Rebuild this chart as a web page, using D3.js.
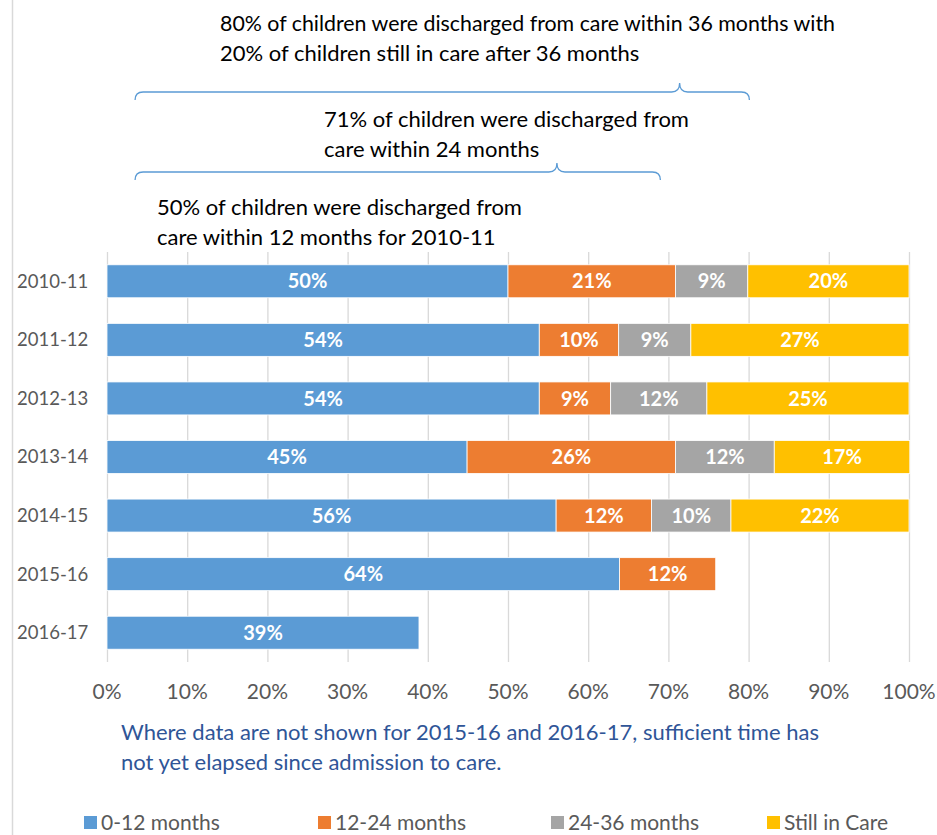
<!DOCTYPE html>
<html>
<head>
<meta charset="utf-8">
<script src="https://cdn.jsdelivr.net/npm/d3@7"></script>
<style>
  body { margin: 0; background: #fff; }
  svg { display: block; font-family: Lato, "Open Sans", sans-serif; }
</style>
</head>
<body>
<svg id="chart" width="937" height="835"></svg>
<script>
// periods, top to bottom
const years = ["2010-11", "2011-12", "2012-13", "2013-14", "2014-15", "2015-16", "2016-17"];
const seriesNames = ["0-12 months", "12-24 months", "24-36 months", "Still in Care"];
const seriesColors = ["#5B9BD5", "#ED7D31", "#A5A5A5", "#FFC000"];

// percent of children by time to discharge (null = not yet known)
const within12 = [50, 53.9, 53.9, 44.9, 56, 63.9, 38.9];
const within24 = [20.9, 9.9, 8.9, 26, 11.9, 12, null];
const within36 = [9, 9, 12, 12.3, 9.9, null, null];
const stillIn = [20.1, 27.2, 25.2, 16.9, 22.2, null, null];

const xTicks = [0, 10, 20, 30, 40, 50, 60, 70, 80, 90, 100];

const svg = d3.select("#chart");
const grey = "#595959";

const x = d3.scaleLinear().domain([0, 100]).range([107, 909]);
const y = d3.scaleBand().domain(years).range([252, 662])
  .paddingInner(0.437).paddingOuter(0.2185);

// left frame line
svg.append("line")
  .attr("x1", 12.5).attr("x2", 12.5).attr("y1", 0).attr("y2", 835)
  .attr("stroke", "#d9d9d9").attr("stroke-width", 1.5);

// gridlines
svg.append("g").selectAll("line")
  .data(xTicks)
  .join("line")
  .attr("x1", d => x(d) + 0.5).attr("x2", d => x(d) + 0.5)
  .attr("y1", 252).attr("y2", 662)
  .attr("stroke", "#d9d9d9").attr("stroke-width", 1.3);

// tick labels
svg.append("g").selectAll("text")
  .data(xTicks)
  .join("text")
  .attr("x", d => x(d))
  .attr("y", 692)
  .attr("dy", "0.35em")
  .attr("text-anchor", "middle")
  .attr("font-size", 21)
  .attr("fill", grey)
  .text(d => d + "%");

// category labels
svg.append("g").selectAll("text")
  .data(years)
  .join("text")
  .attr("x", 17)
  .attr("y", d => y(d) + y.bandwidth() / 2)
  .attr("dy", "0.35em")
  .attr("font-size", 18.5)
  .attr("fill", grey)
  .text(d => d);

// stacked segments
const table = years.map((yr, i) => ({
  year: yr,
  vals: [within12[i], within24[i], within36[i], stillIn[i]]
}));

const segs = [];
table.forEach(row => {
  let acc = 0;
  row.vals.forEach((v, k) => {
    if (v == null) return;
    segs.push({ year: row.year, k: k, x0: acc, x1: acc + v, v: v });
    acc += v;
  });
});

const bars = svg.append("g");
bars.selectAll("rect")
  .data(segs)
  .join("rect")
  .attr("x", d => x(d.x0))
  .attr("y", d => y(d.year))
  .attr("width", d => x(d.x1) - x(d.x0))
  .attr("height", y.bandwidth())
  .attr("fill", d => seriesColors[d.k])
  .attr("stroke", "#fff")
  .attr("stroke-width", 0.8);

bars.selectAll("text")
  .data(segs)
  .join("text")
  .attr("x", d => (x(d.x0) + x(d.x1)) / 2)
  .attr("y", d => y(d.year) + y.bandwidth() / 2)
  .attr("dy", "0.36em")
  .attr("text-anchor", "middle")
  .attr("font-size", 20)
  .attr("font-weight", "bold")
  .attr("fill", "#fff")
  .text(d => Math.round(d.v) + "%");

// annotations with braces
const notes = [
  { lines: ["80% of children were discharged from care within 36 months with",
            "20% of children still in care after 36 months"], tx: 220, ty: 31, fit: 615 },
  { lines: ["71% of children were discharged from",
            "care within 24 months"], tx: 324, ty: 127 },
  { lines: ["50% of children were discharged from",
            "care within 12 months for 2010-11"], tx: 157, ty: 215 }
];

notes.forEach(n => {
  svg.append("text")
    .attr("font-size", 22)
    .attr("fill", "#000")
    .selectAll("tspan")
    .data(n.lines)
    .join("tspan")
    .attr("x", n.tx)
    .attr("y", (d, i) => n.ty + i * 30)
    .attr("textLength", (d, i) => (i === 0 && n.fit) ? n.fit : null)
    .attr("lengthAdjust", "spacingAndGlyphs")
    .text(d => d);
});

const braces = [
  { from: 3.5, to: 80.1, tip: 71.4, yLine: 92 },
  { from: 3.5, to: 69, tip: 56.1, yLine: 172 }
];

const bracePath = (b) => {
  const x1 = x(b.from), x2 = x(b.to), t = x(b.tip), yy = b.yLine;
  const r = 8, h = 8, th = 9;
  return `M${x1},${yy + h} Q${x1},${yy} ${x1 + r},${yy} L${t - r},${yy} ` +
         `Q${t},${yy} ${t},${yy - th} Q${t},${yy} ${t + r},${yy} ` +
         `L${x2 - r},${yy} Q${x2},${yy} ${x2},${yy + h}`;
};

svg.append("g").selectAll("path")
  .data(braces)
  .join("path")
  .attr("d", bracePath)
  .attr("fill", "none")
  .attr("stroke", "#5B9BD5")
  .attr("stroke-width", 1.3);

// footnote
svg.append("text")
  .attr("font-size", 22)
  .attr("fill", "#2F5597")
  .selectAll("tspan")
  .data(["Where data are not shown for 2015-16 and 2016-17, sufficient time has",
         "not yet elapsed since admission to care."])
  .join("tspan")
  .attr("x", 121)
  .attr("y", (d, i) => 740 + i * 30)
  .text(d => d);

// legend
const legendX = [84, 318, 551, 767];
const legend = svg.append("g").selectAll("g")
  .data(seriesNames)
  .join("g")
  .attr("transform", (d, i) => `translate(${legendX[i]},822)`);

legend.append("rect")
  .attr("x", 0).attr("y", -6)
  .attr("width", 13).attr("height", 13)
  .attr("fill", (d, i) => seriesColors[i]);

legend.append("text")
  .attr("x", 17)
  .attr("dy", "0.36em")
  .attr("font-size", 21)
  .attr("fill", grey)
  .text(d => d);
</script>
</body>
</html>
